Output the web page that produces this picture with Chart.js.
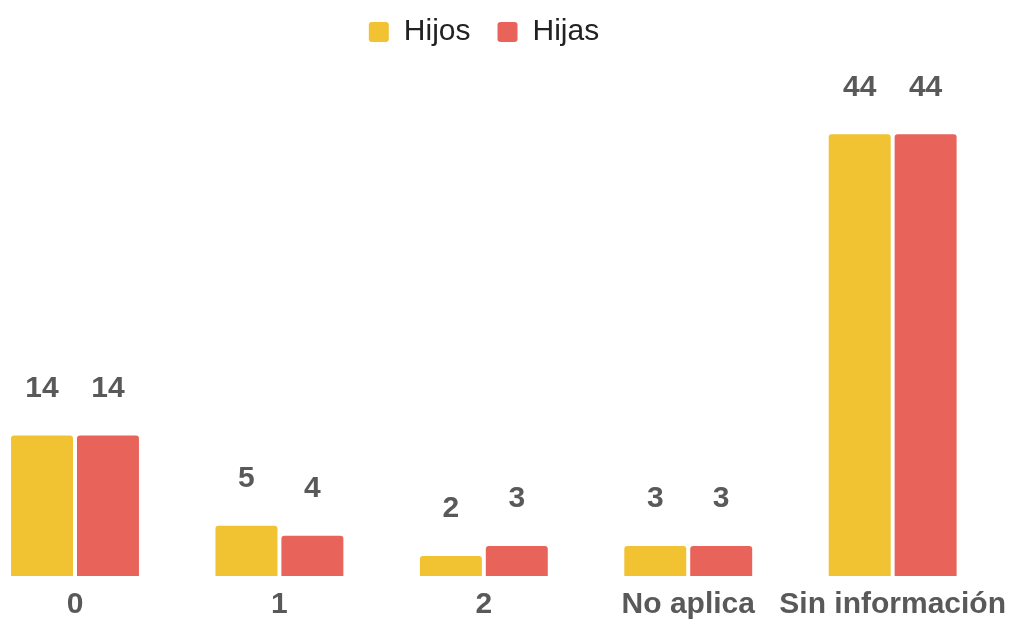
<!DOCTYPE html>
<html>
<head>
<meta charset="utf-8">
<script src="https://cdn.jsdelivr.net/npm/chart.js@4"></script>
<style>
  html, body { margin: 0; background: #fff; }
  #wrap { width: 1010px; height: 620px; }
</style>
</head>
<body>
<div id="wrap"><canvas id="chart"></canvas></div>
<script>
const categories = ['0', '1', '2', 'No aplica', 'Sin información'];
const hijos = [14, 5, 2, 3, 44];
const hijas = [14, 4, 3, 3, 44];

const textGrey = '#595959';
const fontFamily = '"Liberation Sans", Arial, sans-serif';

// value labels above each bar
const valueLabels = {
    id: 'valueLabels',
    afterDatasetsDraw(chart) {
        const ctx = chart.ctx;
        ctx.save();
        ctx.font = 'bold 30px ' + fontFamily;
        ctx.fillStyle = textGrey;
        ctx.textAlign = 'center';
        ctx.textBaseline = 'middle';
        chart.data.datasets.forEach((ds, i) => {
            chart.getDatasetMeta(i).data.forEach((bar, j) => {
                ctx.fillText(ds.data[j], bar.x, bar.y - 47);
            });
        });
        ctx.restore();
    }
};

new Chart(document.getElementById('chart'), {
    type: 'bar',
    data: {
        labels: categories,
        datasets: [
            {
                label: 'Hijos',
                data: hijos,
                backgroundColor: '#F1C232',
                borderRadius: 3,
                borderSkipped: 'bottom',
                barPercentage: 0.94,
                categoryPercentage: 0.645,
                clip: false,
            },
            {
                label: 'Hijas',
                data: hijas,
                backgroundColor: '#E8635A',
                borderRadius: 3,
                borderSkipped: 'bottom',
                barPercentage: 0.94,
                categoryPercentage: 0.645,
                clip: false,
            },
        ],
    },
    options: {
        responsive: true,
        maintainAspectRatio: false,
        animation: false,
        layout: { padding: { left: 75, right: 117, top: -10, bottom: -14 } },
        plugins: {
            legend: {
                position: 'top',
                labels: {
                    font: { family: fontFamily, size: 30 },
                    color: '#222',
                    boxWidth: 20,
                    boxHeight: 20,
                    useBorderRadius: true,
                    borderRadius: 3,
                    padding: 27,
                },
            },
            tooltip: { enabled: false },
        },
        scales: {
            x: {
                offset: false,
                grid: { display: false, drawTicks: false },
                border: { display: false },
                ticks: {
                    font: { family: fontFamily, size: 30, weight: 'bold', lineHeight: '50px' },
                    color: textGrey,
                    padding: 4,
                    maxRotation: 0,
                    autoSkip: false,
                },
            },
            y: {
                display: false,
                min: 0,
                max: 51.7,
            },
        },
    },
    plugins: [valueLabels],
});
</script>
</body>
</html>
